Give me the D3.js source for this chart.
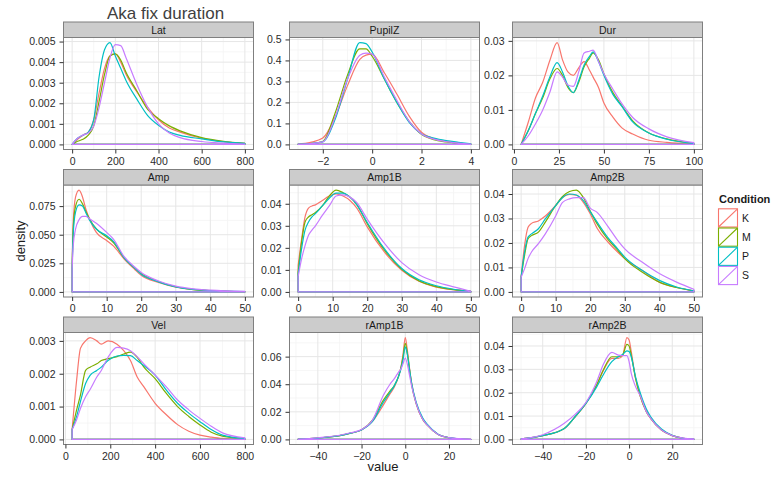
<!DOCTYPE html>
<html>
<head>
<meta charset="utf-8">
<script src="https://cdn.jsdelivr.net/npm/d3@7"></script>
<style>
  body { margin: 0; background: #fff; }
  text { font-family: "Liberation Sans", Arial, sans-serif; }
</style>
</head>
<body>
<div id="chart"></div>
<script>
const conditions = ["K", "M", "P", "S"];
const colors = ["#F8766D", "#7CAE00", "#00BFC4", "#C77CFF"];

// Lat
const latX = [0, 25, 50, 75, 100, 125, 150, 175, 200, 225, 250, 300, 350, 400, 450, 500, 600, 700, 800];
const latK = [0, 0.00025, 0.00045, 0.0006, 0.0012, 0.0025, 0.0037, 0.0043, 0.0044, 0.0040, 0.0034, 0.00255, 0.0018, 0.0012, 0.0008, 0.0006, 0.0003, 0.00014, 0.00005];
const latM = [0, 0.00015, 0.00025, 0.00045, 0.0009, 0.0021, 0.0034, 0.0043, 0.0044, 0.0041, 0.0035, 0.0026, 0.0017, 0.00125, 0.0009, 0.00066, 0.00033, 0.00015, 0.00005];
const latP = [0, 0.0003, 0.00045, 0.0006, 0.0012, 0.0033, 0.0046, 0.00495, 0.0043, 0.0037, 0.0031, 0.0022, 0.0014, 0.00093, 0.0006, 0.00044, 0.00027, 0.00012, 0.00005];
const latS = [0, 0.0003, 0.00045, 0.00055, 0.0009, 0.0018, 0.003, 0.0042, 0.00485, 0.0048, 0.0042, 0.0029, 0.0018, 0.001, 0.00055, 0.00033, 0.00014, 0.00006, 0.00002];

// PupilZ
const pupX = [-3, -2.5, -2, -1.5, -1, -0.5, -0.25, 0, 0.5, 1, 1.5, 2, 2.5, 3, 3.5, 4];
const pupK = [0.002, 0.01, 0.03, 0.13, 0.28, 0.405, 0.425, 0.43, 0.34, 0.24, 0.135, 0.058, 0.028, 0.014, 0.006, 0.002];
const pupM = [0.001, 0.004, 0.014, 0.15, 0.33, 0.455, 0.455, 0.42, 0.31, 0.2, 0.11, 0.048, 0.022, 0.012, 0.006, 0.002];
const pupP = [0.001, 0.004, 0.012, 0.12, 0.31, 0.485, 0.48, 0.44, 0.31, 0.2, 0.105, 0.05, 0.03, 0.018, 0.01, 0.003];
const pupS = [0.001, 0.004, 0.012, 0.13, 0.31, 0.425, 0.435, 0.43, 0.32, 0.21, 0.11, 0.05, 0.025, 0.013, 0.006, 0.002];

// Dur
const durX = [4, 8, 12, 16, 20, 24, 27, 30, 33, 36, 39, 42, 44, 47, 50, 55, 60, 66, 75, 85, 100];
const durK = [0, 0.0065, 0.0135, 0.018, 0.0244, 0.0295, 0.0245, 0.021, 0.02, 0.0222, 0.024, 0.0215, 0.0195, 0.0165, 0.012, 0.0079, 0.0048, 0.003, 0.0012, 0.0006, 0.0002];
const durM = [0, 0.004, 0.009, 0.0135, 0.019, 0.022, 0.02, 0.0165, 0.015, 0.018, 0.0225, 0.025, 0.0265, 0.0245, 0.0205, 0.015, 0.0112, 0.0068, 0.0033, 0.0016, 0.0003];
const durP = [0, 0.004, 0.009, 0.014, 0.0196, 0.0237, 0.021, 0.017, 0.015, 0.0185, 0.023, 0.0255, 0.0268, 0.024, 0.02, 0.0145, 0.011, 0.0065, 0.0033, 0.0015, 0.0003];
const durS = [0, 0.0025, 0.006, 0.01, 0.0152, 0.021, 0.0195, 0.0172, 0.0168, 0.021, 0.0265, 0.027, 0.0273, 0.024, 0.0205, 0.016, 0.0118, 0.0078, 0.0045, 0.0022, 0.0005];

// Amp
const ampX = [0, 0.3, 1, 2, 3, 4, 5, 7, 10, 12, 15, 18, 20, 25, 30, 35, 40, 50];
const ampK = [0.02, 0.06, 0.083, 0.089, 0.083, 0.072, 0.064, 0.052, 0.045, 0.04, 0.029, 0.02, 0.0145, 0.0082, 0.0042, 0.0022, 0.0012, 0.0002];
const ampM = [0.02, 0.055, 0.075, 0.081, 0.077, 0.07, 0.064, 0.055, 0.048, 0.043, 0.03, 0.021, 0.016, 0.009, 0.0045, 0.002, 0.001, 0.0002];
const ampP = [0.02, 0.05, 0.07, 0.076, 0.075, 0.069, 0.063, 0.055, 0.049, 0.044, 0.03, 0.021, 0.0155, 0.0088, 0.0043, 0.0022, 0.0011, 0.0002];
const ampS = [0.02, 0.04, 0.055, 0.063, 0.066, 0.066, 0.064, 0.06, 0.052, 0.046, 0.031, 0.022, 0.017, 0.0095, 0.005, 0.0027, 0.0015, 0.0004];

// Amp1B
const a1X = [0, 1, 2, 3, 4, 5, 7, 9, 11, 13, 15, 17, 20, 25, 30, 35, 40, 45, 50];
const a1K = [0.012, 0.024, 0.034, 0.038, 0.039, 0.0395, 0.0415, 0.0435, 0.0445, 0.0435, 0.0415, 0.038, 0.0295, 0.018, 0.0098, 0.0048, 0.0022, 0.001, 0.0002];
const a1M = [0.009, 0.0226, 0.0317, 0.034, 0.035, 0.036, 0.039, 0.0435, 0.0462, 0.045, 0.043, 0.0396, 0.031, 0.019, 0.0103, 0.005, 0.0024, 0.001, 0.0002];
const a1P = [0.008, 0.0196, 0.028, 0.0317, 0.034, 0.0355, 0.039, 0.0425, 0.0448, 0.0448, 0.043, 0.0395, 0.0315, 0.0195, 0.0106, 0.0055, 0.0028, 0.0012, 0.0002];
const a1S = [0.007, 0.015, 0.021, 0.0257, 0.028, 0.030, 0.0347, 0.039, 0.0435, 0.044, 0.043, 0.0405, 0.033, 0.022, 0.0133, 0.0078, 0.0045, 0.0023, 0.0003];

// Amp2B
const a2X = [0, 1, 2, 3, 5, 7, 10, 12, 14, 16, 18, 20, 22, 25, 28, 30, 35, 40, 45, 50];
const a2K = [0.006, 0.019, 0.0264, 0.028, 0.029, 0.031, 0.0353, 0.0386, 0.0398, 0.0395, 0.0366, 0.0319, 0.026, 0.0206, 0.0162, 0.0136, 0.0088, 0.004, 0.0018, 0.0004];
const a2M = [0.006, 0.015, 0.0217, 0.023, 0.0244, 0.0285, 0.0353, 0.039, 0.041, 0.0416, 0.0386, 0.033, 0.0278, 0.0217, 0.017, 0.0136, 0.0081, 0.004, 0.0018, 0.0004];
const a2P = [0.006, 0.0163, 0.0224, 0.0237, 0.0258, 0.0298, 0.0353, 0.0386, 0.040, 0.0396, 0.0373, 0.0328, 0.0285, 0.0224, 0.0175, 0.0142, 0.0088, 0.0047, 0.002, 0.0004];
const a2S = [0.006, 0.0095, 0.0136, 0.0163, 0.0197, 0.0237, 0.031, 0.0366, 0.038, 0.0385, 0.0385, 0.0342, 0.0325, 0.027, 0.021, 0.0176, 0.0122, 0.0075, 0.004, 0.0011];

// Vel
const velX = [30, 50, 67, 90, 110, 140, 160, 190, 230, 260, 290, 320, 350, 400, 450, 500, 550, 600, 650, 700, 800];
const velK = [0.0003, 0.0018, 0.00277, 0.003, 0.0031, 0.003, 0.0029, 0.003, 0.0029, 0.0027, 0.0024, 0.0019, 0.0016, 0.0011, 0.00075, 0.00045, 0.00025, 0.00013, 0.00007, 0.00003, 0.00001];
const velM = [0.0003, 0.0009, 0.00135, 0.0021, 0.0022, 0.0023, 0.0024, 0.00246, 0.00252, 0.0026, 0.00266, 0.0025, 0.0022, 0.00185, 0.0014, 0.001, 0.0007, 0.00044, 0.00022, 0.0001, 0.00002];
const velP = [0.0003, 0.0007, 0.00115, 0.0017, 0.00195, 0.0021, 0.0022, 0.0024, 0.00254, 0.00256, 0.00255, 0.0024, 0.00225, 0.00196, 0.0015, 0.0011, 0.0008, 0.00054, 0.0003, 0.00013, 0.00003];
const velS = [0.0003, 0.0006, 0.00094, 0.0013, 0.00152, 0.0019, 0.0021, 0.0025, 0.0028, 0.00278, 0.0027, 0.00252, 0.0023, 0.00196, 0.0016, 0.0012, 0.0009, 0.00064, 0.0004, 0.0002, 0.00005];

// rAmp1B
const r1X = [-49, -40, -30, -25, -20, -15, -10, -7, -5, -3, -2, -1, 0, 1, 2, 3, 5, 8, 10, 15, 20, 25, 30];
const r1K = [0.0002, 0.001, 0.0027, 0.0045, 0.0068, 0.013, 0.025, 0.033, 0.038, 0.046, 0.052, 0.062, 0.0738, 0.064, 0.051, 0.04, 0.026, 0.0145, 0.0105, 0.0036, 0.0012, 0.0004, 0.0001];
const r1M = [0.0002, 0.001, 0.0027, 0.0045, 0.007, 0.014, 0.0285, 0.035, 0.039, 0.046, 0.052, 0.06, 0.0697, 0.062, 0.05, 0.039, 0.026, 0.0145, 0.0105, 0.0036, 0.0012, 0.0004, 0.0001];
const r1P = [0.0002, 0.001, 0.0027, 0.0045, 0.0068, 0.013, 0.027, 0.034, 0.039, 0.046, 0.051, 0.058, 0.067, 0.061, 0.05, 0.04, 0.027, 0.0155, 0.011, 0.0038, 0.0013, 0.0004, 0.0001];
const r1S = [0.0002, 0.0012, 0.003, 0.0048, 0.0072, 0.014, 0.032, 0.04, 0.044, 0.049, 0.051, 0.055, 0.059, 0.054, 0.046, 0.038, 0.026, 0.0145, 0.0105, 0.0036, 0.0013, 0.0005, 0.0002];

// rAmp2B
const r2X = [-50, -40, -30, -25, -20, -15, -12, -8, -5, -3, -1, 0, 1, 3, 5, 8, 10, 15, 20, 25, 30];
const r2K = [0.0002, 0.0016, 0.0047, 0.0097, 0.0154, 0.0233, 0.0293, 0.0347, 0.0347, 0.0359, 0.0436, 0.0426, 0.0376, 0.0261, 0.019, 0.0119, 0.009, 0.004, 0.0016, 0.0005, 0.0001];
const r2M = [0.0002, 0.0016, 0.0047, 0.0097, 0.0154, 0.0233, 0.0296, 0.0354, 0.0354, 0.0361, 0.0407, 0.040, 0.036, 0.0261, 0.019, 0.0119, 0.009, 0.004, 0.0016, 0.0005, 0.0001];
const r2P = [0.0002, 0.0016, 0.0047, 0.0097, 0.0154, 0.0225, 0.0276, 0.0333, 0.0354, 0.0364, 0.0379, 0.0376, 0.0354, 0.0268, 0.0204, 0.013, 0.0097, 0.0045, 0.0018, 0.0005, 0.0001];
const r2S = [0.0002, 0.002, 0.0069, 0.0107, 0.0158, 0.0247, 0.032, 0.0373, 0.0361, 0.0359, 0.0359, 0.0333, 0.0283, 0.0226, 0.019, 0.0119, 0.009, 0.004, 0.0016, 0.0006, 0.0002];

// tick values
const ticks800 = [0, 200, 400, 600, 800];
const ticks50 = [0, 10, 20, 30, 40, 50];
const ticksR = [-40, -20, 0, 20];

const panels = [
  { name: "Lat", x: latX, s: [latK, latM, latP, latS], xt: ticks800, yt: [0, 0.001, 0.002, 0.003, 0.004, 0.005], yd: 3 },
  { name: "PupilZ", x: pupX, s: [pupK, pupM, pupP, pupS], xt: [-2, 0, 2, 4], yt: [0, 0.1, 0.2, 0.3, 0.4, 0.5], yd: 1 },
  { name: "Dur", x: durX, s: [durK, durM, durP, durS], xt: [0, 25, 50, 75, 100], yt: [0, 0.01, 0.02, 0.03], yd: 2 },
  { name: "Amp", x: ampX, s: [ampK, ampM, ampP, ampS], xt: ticks50, yt: [0, 0.025, 0.05, 0.075], yd: 3 },
  { name: "Amp1B", x: a1X, s: [a1K, a1M, a1P, a1S], xt: ticks50, yt: [0, 0.01, 0.02, 0.03, 0.04], yd: 2 },
  { name: "Amp2B", x: a2X, s: [a2K, a2M, a2P, a2S], xt: ticks50, yt: [0, 0.01, 0.02, 0.03, 0.04], yd: 2 },
  { name: "Vel", x: velX, s: [velK, velM, velP, velS], xt: ticks800, yt: [0, 0.001, 0.002, 0.003], yd: 3 },
  { name: "rAmp1B", x: r1X, s: [r1K, r1M, r1P, r1S], xt: ticksR, yt: [0, 0.02, 0.04, 0.06], yd: 2 },
  { name: "rAmp2B", x: r2X, s: [r2K, r2M, r2P, r2S], xt: ticksR, yt: [0, 0.01, 0.02, 0.03, 0.04], yd: 2 }
];

const W = 772, H = 479;
const colX = [63.5, 289.5, 512.5], panelW = 190;
const rowY = [22, 169.5, 317], stripH = 15.5, plotH = 112;

const svg = d3.select("#chart").append("svg")
  .attr("width", W).attr("height", H);

// minor breaks: midpoints between majors, inside the domain
function minors(ticks, dom) {
  const step = ticks[1] - ticks[0];
  const out = [];
  for (let v = ticks[0] - step / 2; v <= dom[1]; v += step) {
    if (v >= dom[0] && !ticks.includes(v)) out.push(v);
  }
  return out;
}

panels.forEach((p, i) => {
  const c = i % 3, r = Math.floor(i / 3);
  const left = colX[c], top = rowY[r] + stripH, bottom = top + plotH;

  const ext = d3.extent(p.x);
  const padX = (ext[1] - ext[0]) * 0.05;
  const x = d3.scaleLinear().domain([ext[0] - padX, ext[1] + padX]).range([left, left + panelW]);
  const ymax = d3.max(p.s, s => d3.max(s));
  const y = d3.scaleLinear().domain([-ymax * 0.05, ymax * 1.05]).range([bottom, top]);

  const g = svg.append("g");

  g.append("rect")
    .attr("x", left).attr("y", top).attr("width", panelW).attr("height", plotH)
    .attr("fill", "#fff");

  // grid
  const xMinor = minors(p.xt, x.domain()), yMinor = minors(p.yt, y.domain());
  g.selectAll(".xmin").data(xMinor).join("line")
    .attr("x1", d => x(d)).attr("x2", d => x(d)).attr("y1", top).attr("y2", bottom)
    .attr("stroke", "#F4F4F4").attr("stroke-width", 0.8);
  g.selectAll(".ymin").data(yMinor).join("line")
    .attr("y1", d => y(d)).attr("y2", d => y(d)).attr("x1", left).attr("x2", left + panelW)
    .attr("stroke", "#F4F4F4").attr("stroke-width", 0.8);
  g.selectAll(".xmaj").data(p.xt).join("line")
    .attr("x1", d => x(d)).attr("x2", d => x(d)).attr("y1", top).attr("y2", bottom)
    .attr("stroke", "#E6E6E6").attr("stroke-width", 1);
  g.selectAll(".ymaj").data(p.yt).join("line")
    .attr("y1", d => y(d)).attr("y2", d => y(d)).attr("x1", left).attr("x2", left + panelW)
    .attr("stroke", "#E6E6E6").attr("stroke-width", 1);

  // density outlines (closed polygons like geom_density)
  const area = d3.area()
    .x((d, j) => x(p.x[j]))
    .y0(y(0))
    .y1(d => y(d))
    .curve(d3.curveMonotoneX);
  p.s.forEach((vals, k) => {
    g.append("path")
      .attr("d", area(vals))
      .attr("fill", "none")
      .attr("stroke", colors[k])
      .attr("stroke-width", 1.2)
      .attr("stroke-linejoin", "round");
  });

  g.append("rect")
    .attr("x", left).attr("y", top).attr("width", panelW).attr("height", plotH)
    .attr("fill", "none").attr("stroke", "#7F7F7F").attr("stroke-width", 1);

  // strip
  g.append("rect")
    .attr("x", left).attr("y", rowY[r]).attr("width", panelW).attr("height", stripH)
    .attr("fill", "#CCCCCC").attr("stroke", "#7F7F7F").attr("stroke-width", 1);
  g.append("text")
    .attr("x", left + panelW / 2).attr("y", rowY[r] + stripH / 2 + 3.8)
    .attr("text-anchor", "middle").attr("font-size", 10.5).attr("fill", "#1A1A1A")
    .text(p.name);

  // axes
  const yAxis = d3.axisLeft(y).tickValues(p.yt).tickSize(4).tickPadding(4)
    .tickFormat(d3.format("." + p.yd + "f"));
  const ya = g.append("g").attr("transform", "translate(" + left + ",0)").call(yAxis);
  const xAxis = d3.axisBottom(x).tickValues(p.xt).tickSize(4).tickPadding(4)
    .tickFormat(d3.format("d"));
  const xa = g.append("g").attr("transform", "translate(0," + bottom + ")").call(xAxis);
  [ya, xa].forEach(a => {
    a.select(".domain").remove();
    a.selectAll(".tick line").attr("stroke", "#333");
    a.selectAll(".tick text").attr("fill", "#2B2B2B").attr("font-size", 10.5)
      .attr("font-family", "Liberation Sans, Arial, sans-serif");
  });
});

// title and axis titles
svg.append("text")
  .attr("x", 107).attr("y", 19)
  .attr("font-size", 17).attr("fill", "#404040")
  .text("Aka fix duration");

svg.append("text")
  .attr("transform", "translate(25,241) rotate(-90)")
  .attr("text-anchor", "middle").attr("font-size", 13).attr("fill", "#1A1A1A")
  .text("density");

svg.append("text")
  .attr("x", 383).attr("y", 471)
  .attr("text-anchor", "middle").attr("font-size", 13).attr("fill", "#1A1A1A")
  .text("value");

// legend
const lg = svg.append("g").attr("transform", "translate(718,0)");
lg.append("text")
  .attr("x", 1).attr("y", 203)
  .attr("font-size", 11).attr("font-weight", "bold").attr("fill", "#1A1A1A")
  .text("Condition");
const keyH = 19.2, keyW = 20, key0 = 208.3;
conditions.forEach((cnd, k) => {
  const ky = key0 + k * keyH;
  lg.append("rect")
    .attr("x", 0.5).attr("y", ky + 0.5).attr("width", keyW - 1).attr("height", keyH - 1)
    .attr("fill", "#fff").attr("stroke", colors[k]).attr("stroke-width", 1.1);
  lg.append("line")
    .attr("x1", 0.5).attr("y1", ky + keyH - 0.5).attr("x2", keyW - 0.5).attr("y2", ky + 0.5)
    .attr("stroke", colors[k]).attr("stroke-width", 1.1);
  lg.append("text")
    .attr("x", keyW + 4).attr("y", ky + keyH / 2 + 3.8)
    .attr("font-size", 10.5).attr("fill", "#1A1A1A")
    .text(cnd);
});
</script>
</body>
</html>
